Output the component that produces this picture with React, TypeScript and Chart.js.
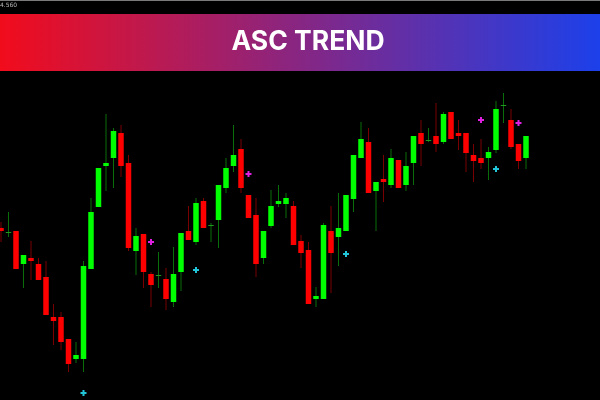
import React, { useEffect, useRef } from "react";
import { Chart, registerables } from "chart.js";

Chart.register(...registerables);

const TITLE = "ASC TREND";
const TOP_PRICE_LABEL = "4.560";

const openPrices = [
  4.4688, 4.4668, 4.4676, 4.4544, 4.4568, 4.4544, 4.4492, 4.4332, 4.4332, 4.4244,
  4.4164, 4.4164, 4.4524, 4.4772, 4.4936, 4.4968, 4.5068, 4.4948, 4.4596, 4.4664,
  4.4504, 4.4496, 4.4484, 4.4392, 4.4512, 4.4676, 4.4632, 4.4796, 4.4696, 4.472,
  4.4848, 4.4936, 4.5004, 4.482, 4.474, 4.4568, 4.4696, 4.4784, 4.4784, 4.4776,
  4.4636, 4.46, 4.4404, 4.4404, 4.4676, 4.4652, 4.4676, 4.4804, 4.4968, 4.5032,
  4.4836, 4.4884, 4.486, 4.496, 4.486, 4.4948, 4.5068, 4.5036, 4.5056, 4.5032,
  4.5152, 4.5068, 4.5068, 4.498, 4.4968, 4.4968, 4.5, 4.5176, 4.512, 4.5024,
  4.4968,
];
const highPrices = [
  4.4712, 4.4752, 4.4676, 4.458, 4.4636, 4.4568, 4.4556, 4.4384, 4.4352, 4.4244,
  4.4232, 4.4556, 4.4808, 4.4928, 4.5144, 4.5088, 4.51, 4.498, 4.4688, 4.4664,
  4.4512, 4.4592, 4.4528, 4.4612, 4.4668, 4.4776, 4.4808, 4.4808, 4.4708, 4.486,
  4.4968, 4.51, 4.5044, 4.482, 4.4808, 4.4676, 4.484, 4.486, 4.4828, 4.4796,
  4.466, 4.4632, 4.4452, 4.4708, 4.4776, 4.4828, 4.482, 4.498, 4.5112, 4.5088,
  4.4872, 4.498, 4.5004, 4.496, 4.4992, 4.5056, 4.512, 4.5088, 4.5188, 4.5152,
  4.5152, 4.512, 4.5068, 4.5024, 4.5044, 4.5012, 4.5196, 4.5228, 4.5164, 4.5024,
  4.5056,
];
const lowPrices = [
  4.4632, 4.4652, 4.4524, 4.4448, 4.448, 4.448, 4.434, 4.422, 4.42, 4.4112,
  4.4148, 4.4112, 4.4524, 4.4772, 4.4836, 4.4848, 4.4892, 4.4596, 4.45, 4.4448,
  4.4372, 4.4448, 4.436, 4.4372, 4.4436, 4.464, 4.462, 4.4688, 4.4632, 4.4608,
  4.4828, 4.4912, 4.4828, 4.4728, 4.4492, 4.4544, 4.4688, 4.4772, 4.4728, 4.462,
  4.4528, 4.4384, 4.4372, 4.4404, 4.4428, 4.4536, 4.4676, 4.4752, 4.4968, 4.4828,
  4.4676, 4.4792, 4.4848, 4.4848, 4.4836, 4.486, 4.4936, 4.5032, 4.4992, 4.5024,
  4.5044, 4.5, 4.4912, 4.4872, 4.4924, 4.488, 4.4988, 4.5108, 4.5004, 4.4924,
  4.4924,
];
const closePrices = [
  4.4676, 4.4672, 4.4524, 4.458, 4.4556, 4.448, 4.434, 4.4316, 4.4232, 4.4144,
  4.418, 4.4536, 4.4752, 4.4928, 4.4948, 4.5076, 4.4936, 4.4608, 4.4656, 4.4512,
  4.446, 4.45, 4.4404, 4.4504, 4.4668, 4.464, 4.4788, 4.4688, 4.47, 4.486,
  4.4928, 4.498, 4.4848, 4.4728, 4.4544, 4.4676, 4.4776, 4.4796, 4.4808, 4.462,
  4.4588, 4.4384, 4.4416, 4.47, 4.4588, 4.4688, 4.482, 4.498, 4.5044, 4.4828,
  4.4872, 4.4872, 4.4968, 4.4848, 4.4936, 4.5056, 4.5024, 4.504, 4.5024, 4.5144,
  4.5044, 4.5056, 4.4988, 4.4956, 4.4948, 4.4992, 4.5164, 4.518, 4.5012, 4.4956,
  4.5056,
];

// Signal arrows: candle index and price
const buyIndex = [11, 26, 46, 66];
const buyPrice = [4.4028, 4.452, 4.4584, 4.4924];
const sellIndex = [20, 33, 64, 69];
const sellPrice = [4.4632, 4.4904, 4.512, 4.5108];

const BULL = "#00ff00";
const BEAR = "#ff0000";
const BULL_WICK = "#0a6e0a";
const BEAR_WICK = "#7a0000";

const bannerPlugin = {
  id: "banner",
  beforeDraw(chart: any) {
    const { ctx, width, height } = chart;
    ctx.save();
    ctx.fillStyle = "#000000";
    ctx.fillRect(0, 0, width, height);
    ctx.fillStyle = "#7a7a7a";
    ctx.fillRect(0, 0, width, 1);
    const g = ctx.createLinearGradient(0, 0, width, 0);
    g.addColorStop(0, "#f20c1c");
    g.addColorStop(1, "#1c40ea");
    ctx.fillStyle = g;
    ctx.fillRect(0, 14, width, 57);
    ctx.fillStyle = "#ffffff";
    ctx.font = "700 26.5px Inter";
    ctx.textAlign = "center";
    ctx.textBaseline = "alphabetic";
    ctx.fillText(TITLE, 308, 50);
    ctx.fillStyle = "#bbbbbb";
    ctx.font = "6px 'DejaVu Sans'";
    ctx.textAlign = "left";
    ctx.textBaseline = "top";
    ctx.fillText(TOP_PRICE_LABEL, 0, 2);
    ctx.restore();
  },
};

export default function App() {
  const ref = useRef<HTMLCanvasElement | null>(null);
  useEffect(() => {
    document.body.style.margin = "0";
    const canvas = ref.current;
    if (!canvas) return;
    const idx = openPrices.map((_, i) => i);
    const up = idx.map((i) => closePrices[i] >= openPrices[i]);
    const doji = idx.map((i) => Math.abs(closePrices[i] - openPrices[i]) < 0.0005);
    const chart = new Chart(canvas, {
      type: "bar",
      data: {
        datasets: [
          {
            type: "scatter",
            label: "buy",
            data: buyIndex.map((x, k) => ({ x, y: buyPrice[k] })),
            pointStyle: "cross",
            radius: 3,
            borderWidth: 2,
            borderColor: "#22c4d8",
            backgroundColor: "#22c4d8",
            order: 0,
          } as any,
          {
            type: "scatter",
            label: "sell",
            data: sellIndex.map((x, k) => ({ x, y: sellPrice[k] })),
            pointStyle: "cross",
            radius: 3,
            borderWidth: 2,
            borderColor: "#e020e0",
            backgroundColor: "#e020e0",
            order: 0,
          } as any,
          {
            type: "bar",
            label: "body",
            data: idx.map((i) => ({ x: i, y: [openPrices[i], closePrices[i]] })),
            backgroundColor: idx.map((i) =>
              doji[i] ? (up[i] ? "#1f9a1f" : "#9a1010") : up[i] ? BULL : BEAR
            ),
            barThickness: 5.5,
            grouped: false,
            inflateAmount: 0,
            order: 1,
          } as any,
          {
            type: "bar",
            label: "wick",
            data: idx.map((i) => ({ x: i, y: [lowPrices[i], highPrices[i]] })),
            backgroundColor: idx.map((i) => (up[i] ? BULL_WICK : BEAR_WICK)),
            barThickness: 1,
            grouped: false,
            inflateAmount: 0,
            order: 2,
          } as any,
        ],
      },
      options: {
        animation: false,
        responsive: false,
        events: [],
        layout: { padding: 0, autoPadding: false },
        plugins: { legend: { display: false }, tooltip: { enabled: false }, title: { display: false } },
        scales: {
          x: { type: "linear", offset: false, min: -0.13333, max: 79.86667, display: false },
          y: { type: "linear", min: 4.4, max: 4.56, display: false },
        },
      } as any,
      plugins: [bannerPlugin],
    });
    return () => chart.destroy();
  }, []);
  return (
    <div style={{ width: 600, height: 400, background: "#000" }}>
      <canvas ref={ref} width={600} height={400} style={{ display: "block" }} />
    </div>
  );
}
